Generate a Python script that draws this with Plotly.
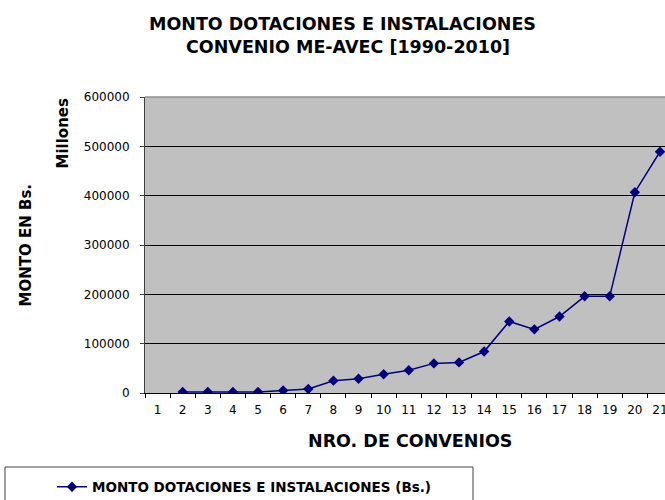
import plotly.graph_objects as go

categories = [str(i) for i in range(1, 22)]
montos = [None, 2000, 2000, 2000, 2000, 5000, 8000, 25000, 29000, 38000, 46000,
          60000, 62000, 84000, 145000, 129000, 155000, 196000, 196000, 407000, 489000]
y_ticks = [0, 100000, 200000, 300000, 400000, 500000, 600000]
series_name = "MONTO DOTACIONES E INSTALACIONES (Bs.)"

W, H = 665, 500
L, R, T, B = 145, 0, 97, 107
PW, PH = W - L - R, H - T - B

def px(x):
    return (x - L) / PW

def py(y):
    return (H - B - y) / PH

FONT = "DejaVu Sans"
NAVY = "#000080"

fig = go.Figure()
fig.add_trace(go.Scatter(
    x=categories, y=montos, mode="lines+markers", name=series_name,
    line=dict(color=NAVY, width=1.5),
    marker=dict(symbol="diamond", size=8, color=NAVY),
    connectgaps=False,
))

fig.update_layout(
    width=W, height=H,
    margin=dict(l=L, r=R, t=T, b=B, pad=0, autoexpand=False),
    paper_bgcolor="white", plot_bgcolor="#C0C0C0",
    font=dict(family=FONT, size=12, color="black"),
    showlegend=True,
    legend=dict(x=px(52), y=py(487), xanchor="left", yanchor="middle",
                bgcolor="rgba(0,0,0,0)", borderwidth=0,
                font=dict(family=FONT, size=13.5, color="black", weight="bold")),
    xaxis=dict(type="category", categoryorder="array", categoryarray=categories,
               range=[-0.5, 20.2], tickson="boundaries", ticks="outside", ticklen=4,
               tickcolor="black", showline=True, linecolor="black", linewidth=1,
               showgrid=False, zeroline=False, ticklabelstandoff=6, automargin=False,
               tickfont=dict(family=FONT, size=12)),
    yaxis=dict(range=[0, 600000], tickvals=y_ticks, tickformat="d",
               ticks="outside", ticklen=4, tickcolor="#404040",
               showline=True, linecolor="#404040", linewidth=1,
               showgrid=True, gridcolor="black", gridwidth=1, zeroline=False,
               ticklabelstandoff=8, automargin=False, tickfont=dict(family=FONT, size=12)),
    shapes=[
        dict(type="line", xref="paper", yref="paper", x0=0, x1=1, y0=1, y1=1,
             line=dict(color="#909090", width=1.5), layer="above"),
        dict(type="rect", xref="paper", yref="paper", x0=px(5), x1=px(473),
             y0=py(467), y1=py(520), line=dict(color="#404040", width=1),
             fillcolor="rgba(0,0,0,0)"),
    ],
    annotations=[
        dict(text="<b>MONTO DOTACIONES E INSTALACIONES</b>", x=px(342), y=py(23.5),
             xref="paper", yref="paper", showarrow=False, xanchor="center", yanchor="middle",
             font=dict(family=FONT, size=17.5)),
        dict(text="<b>CONVENIO ME-AVEC [1990-2010]</b>", x=px(348), y=py(47.5),
             xref="paper", yref="paper", showarrow=False, xanchor="center", yanchor="middle",
             font=dict(family=FONT, size=17.5)),
        dict(text="<b>NRO. DE CONVENIOS</b>", x=px(410), y=py(441),
             xref="paper", yref="paper", showarrow=False, xanchor="center", yanchor="middle",
             font=dict(family=FONT, size=17.5)),
        dict(text="<b>MONTO EN Bs.</b>", x=px(25.5), y=py(245), textangle=-90,
             xref="paper", yref="paper", showarrow=False, xanchor="center", yanchor="middle",
             font=dict(family=FONT, size=15)),
        dict(text="<b>Millones</b>", x=px(62.5), y=py(133), textangle=-90,
             xref="paper", yref="paper", showarrow=False, xanchor="center", yanchor="middle",
             font=dict(family=FONT, size=15)),
    ],
)

fig.write_html("out.html", config={"displayModeBar": False},
               post_script="document.body.style.margin='0';document.body.style.padding='0';")
